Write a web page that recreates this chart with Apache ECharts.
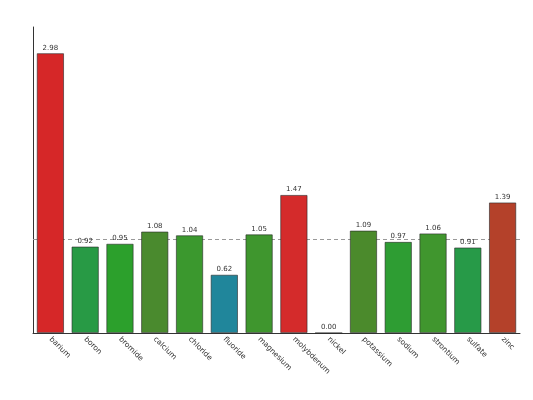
<!DOCTYPE html>
<html>
<head>
<meta charset="utf-8">
<script src="https://cdn.jsdelivr.net/npm/echarts@6/dist/echarts.min.js"></script>
<style>
  html, body { margin: 0; padding: 0; background: #fff; }
  #chart { width: 533px; height: 400px; }
</style>
</head>
<body>
<div id="chart"></div>
<script>
// 数据
const elements = ['barium', 'boron', 'bromide', 'calcium', 'chloride', 'fluoride', 'magnesium',
  'molybdenum', 'nickel', 'potassium', 'sodium', 'strontium', 'sulfate', 'zinc']
const ratios = [2.98, 0.92, 0.95, 1.08, 1.04, 0.62, 1.05, 1.47, 0.00, 1.09, 0.97, 1.06, 0.91, 1.39]
const barColors = ['#d62728', '#289a45', '#2ca02c', '#4a8a2e', '#3b982e', '#20869b', '#3f962e',
  '#d42b2b', '#7a7a7a', '#4b8a2c', '#2e9d33', '#40962e', '#279a48', '#b4412a']
const refLine = 1

const chart = echarts.init(document.getElementById('chart'))
chart.setOption({
  animation: false,
  grid: { left: 33, right: 13, top: 27, bottom: 67 },
  xAxis: {
    type: 'category',
    data: elements,
    axisLine: { lineStyle: { color: '#333', width: 1 } },
    axisTick: { show: false },
    axisLabel: {
      rotate: -45, fontSize: 7.5, color: '#333', margin: 5,
      fontFamily: 'DejaVu Sans', interval: 0
    }
  },
  yAxis: {
    type: 'value',
    min: 0, max: 3.26,
    axisLine: { show: true, lineStyle: { color: '#333', width: 1 } },
    axisTick: { show: false },
    axisLabel: { show: false },
    splitLine: { show: false }
  },
  series: [
    {
      type: 'line',
      data: [],
      z: 1,
      silent: true,
      markLine: {
        z: 1,
        symbol: 'none',
        silent: true,
        label: { show: false },
        lineStyle: { color: '#999', type: [4, 3], width: 1 },
        data: [{ yAxis: refLine }]
      }
    },
    {
      type: 'bar',
      z: 3,
      barWidth: '78%',
      data: ratios.map(function (v, i) {
        return { value: v, itemStyle: { color: barColors[i] } }
      }),
      itemStyle: { borderColor: 'rgba(40,40,40,0.75)', borderWidth: 0.8 },
      label: {
        show: true, position: 'top', distance: 2,
        fontSize: 7, color: '#333', fontFamily: 'DejaVu Sans',
        formatter: function (p) { return p.value.toFixed(2) }
      }
    }
  ]
})
</script>
</body>
</html>
